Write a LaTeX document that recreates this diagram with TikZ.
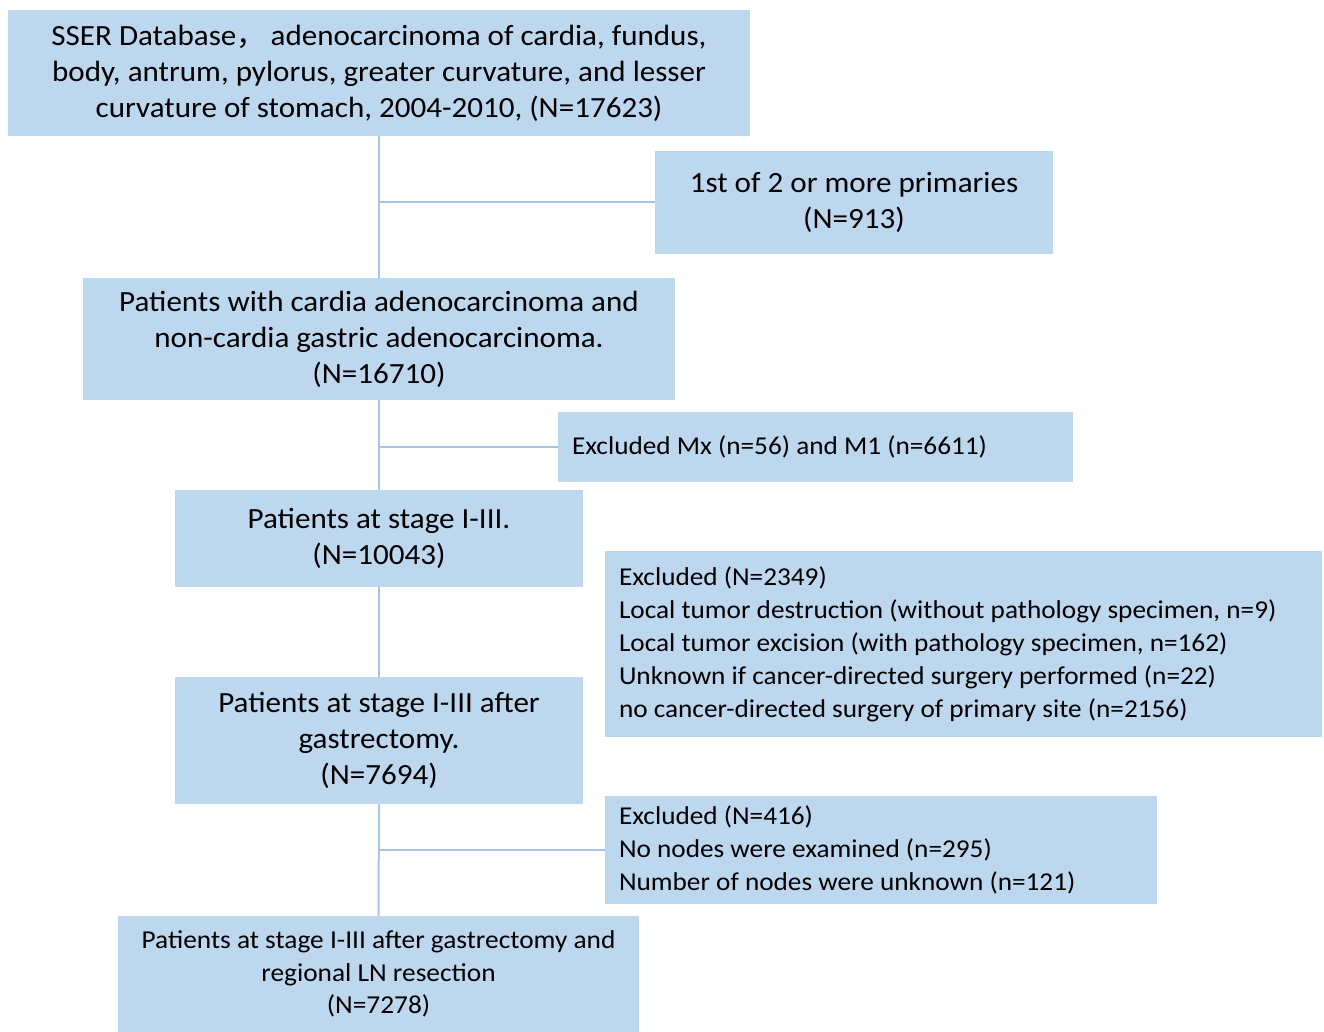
\documentclass[tikz,border=0pt]{standalone}
\usepackage{fontspec}
\setmainfont{Carlito}[FakeStretch=1.06]
\newfontfamily\cjk{Noto Sans CJK SC}
\usetikzlibrary{positioning}
\definecolor{boxfill}{HTML}{BDD7EE}
\definecolor{linkline}{HTML}{A7C5E4}

\begin{document}
\begin{tikzpicture}[x=0.5pt,y=-0.5pt,
        flowbox/.style={fill=boxfill,inner sep=0pt,align=flush center,font=\fontsize{14.65}{18}\selectfont},
        sidebox/.style={fill=boxfill,inner xsep=7pt,inner ysep=0pt,align=flush left,font=\fontsize{12.85}{16.5}\selectfont},
        link/.style={draw=linkline,line width=1pt}]
        \useasboundingbox (0,0) rectangle (1324,1032);
        \node[flowbox,minimum width=371pt,minimum height=63pt] (src) at (379,73) {SSER Database{\cjk ，}\,adenocarcinoma of cardia, fundus,\\body, antrum, pylorus, greater curvature, and lesser\\curvature of stomach, 2004-2010, (N=17623)};
        \node[flowbox,minimum width=199pt,minimum height=51.5pt] (multi) at (854,202.5) {1st of 2 or more primaries\\(N=913)};
        \node[flowbox,minimum width=296pt,minimum height=61pt] (cardia) at (379,339) {Patients with cardia adenocarcinoma and\\non-cardia gastric adenocarcinoma.\\(N=16710)};
        \node[sidebox,text width=243.5pt,minimum height=35pt] (mstage) at (815.5,447) {Excluded Mx (n=56) and M1 (n=6611)};
        \node[flowbox,minimum width=204pt,minimum height=48.5pt] (stage) at (379,538.5) {Patients at stage I-III.\\(N=10043)};
        \node[sidebox,text width=344.5pt,minimum height=93pt] (surgery) at (963.5,644) {Excluded (N=2349)\\Local tumor destruction (without pathology specimen, n=9)\\Local tumor excision (with pathology specimen, n=162)\\Unknown if cancer-directed surgery performed (n=22)\\no cancer-directed surgery of primary site (n=2156)};
        \node[flowbox,minimum width=204pt,minimum height=63.5pt] (gastr) at (379,740.5) {Patients at stage I-III after\\gastrectomy.\\(N=7694)};
        \node[sidebox,text width=262pt,minimum height=54pt] (lnodes) at (881,850) {Excluded (N=416)\\No nodes were examined (n=295)\\Number of nodes were unknown (n=121)};
        \node[flowbox,minimum width=260.5pt,minimum height=58pt,font=\fontsize{12.9}{16.3}\selectfont] (final) at (378.5,974) {Patients at stage I-III after gastrectomy and\\regional LN resection\\(N=7278)};
        \draw[link] (src) -- (cardia);
        \draw[link] (cardia) -- (stage);
        \draw[link] (stage) -- (gastr);
        \draw[link] (gastr) -- (final);
        \draw[link] (multi.west) -- (multi.west -| src.south);
        \draw[link] (mstage.west) -- (mstage.west -| src.south);
        \draw[link] (lnodes.west) -- (lnodes.west -| src.south);
    \end{tikzpicture}
\end{document}
